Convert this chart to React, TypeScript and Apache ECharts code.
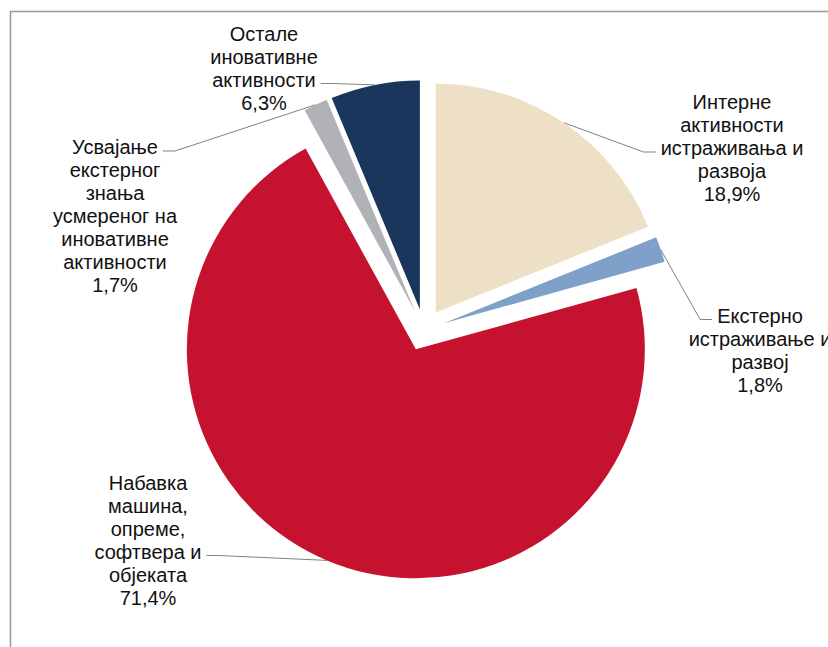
import React, { useEffect, useRef } from "react";
import * as echarts from "echarts";

const categories: string[][] = [
  ["Интерне", "активности", "истраживања и", "развоја"],
  ["Екстерно", "истраживање и", "развој"],
  ["Набавка", "машина,", "опреме,", "софтвера и", "објеката"],
  ["Усвајање", "екстерног", "знања", "усмереног на", "иновативне", "активности"],
  ["Остале", "иновативне", "активности"],
];
const values: number[] = [18.9, 1.8, 71.4, 1.7, 6.3];
const colors: string[] = ["#EEE0C6", "#7FA0C8", "#C4122F", "#B1B2B8", "#1B365D"];
// label text-block centres
const labelPos: number[][] = [
  [732, 148],
  [760, 350],
  [148, 540],
  [115, 216],
  [264, 68],
];
// which text line the leader line attaches to
const attachLine: number[] = [2, 0, 3, 0, 2];

const FONT_SIZE = 20;
const LINE_H = 23;
const FONT_FAMILY = "Liberation Sans, Arial, sans-serif";
const CENTER = [424, 330];
const RADIUS = 229;
const OFFSET = 21;

function fmt(v: number) {
  return v.toFixed(1).replace(".", ",") + "%";
}

export default function App() {
  const ref = useRef<HTMLDivElement>(null);
  useEffect(() => {
    if (!ref.current) return;
    const chart = echarts.init(ref.current, undefined, { renderer: "svg" });

    const canvas = document.createElement("canvas");
    const ctx = canvas.getContext("2d")!;
    ctx.font = `${FONT_SIZE}px "Liberation Sans", Arial, sans-serif`;
    const lines = categories.map((c, i) => [...c, fmt(values[i])]);

    const total = values.reduce((a, b) => a + b, 0);
    const midAngles: number[] = [];
    let cum = 0;
    values.forEach((v) => {
      midAngles.push(((cum + v / 2) / total) * Math.PI * 2);
      cum += v;
    });

    const labelLayout = (p: any) => {
      const i = p.dataIndex;
      const [cx, cy] = labelPos[i];
      const a = midAngles[i];
      const ax = CENTER[0] + (RADIUS + OFFSET) * Math.sin(a);
      const ay = CENTER[1] - (RADIUS + OFFSET) * Math.cos(a);
      const n = lines[i].length;
      const li = attachLine[i];
      const lineY = cy - (n * LINE_H) / 2 + (li + 0.5) * LINE_H + 4;
      const w = ctx.measureText(lines[i][li]).width;
      const rightSide = cx > ax;
      const endX = rightSide ? cx - w / 2 - 5 : cx + w / 2 + 5;
      const elbowX = rightSide ? endX - 12 : endX + 12;
      return {
        x: cx,
        y: cy,
        align: "center",
        verticalAlign: "middle",
        labelLinePoints: [
          [ax, ay],
          [elbowX, lineY],
          [endX, lineY],
        ],
      };
    };

    chart.setOption({
      animation: false,
      backgroundColor: "#ffffff",
      graphic: [
        {
          type: "rect",
          shape: { x: 10.5, y: 11.5, width: 900, height: 700 },
          style: { fill: "none", stroke: "#999999", lineWidth: 1.5 },
          silent: true,
        },
      ],
      series: [
        {
          type: "pie",
          center: CENTER,
          radius: [0, RADIUS],
          startAngle: 90,
          clockwise: true,
          selectedMode: "multiple",
          selectedOffset: OFFSET,
          label: { show: false },
          labelLine: { show: false },
          emphasis: { disabled: true },
          select: { itemStyle: { borderWidth: 0 } },
          data: values.map((v, i) => ({
            value: v,
            name: categories[i].join(" "),
            selected: true,
            itemStyle: { color: colors[i], borderWidth: 0 },
            select: { itemStyle: { color: colors[i], borderWidth: 0 } },
          })),
        },
        {
          type: "pie",
          center: CENTER,
          radius: [0, RADIUS],
          startAngle: 90,
          clockwise: true,
          selectedMode: false,
          silent: true,
          avoidLabelOverlap: false,
          itemStyle: { color: "rgba(0,0,0,0)", borderWidth: 0 },
          label: {
            show: true,
            position: "outside",
            color: "#111111",
            fontFamily: FONT_FAMILY,
            fontSize: FONT_SIZE,
            lineHeight: LINE_H,
            align: "center",
            formatter: (p: any) => lines[p.dataIndex].join("\n"),
          },
          labelLine: {
            show: true,
            length: 20,
            length2: 12,
            lineStyle: { color: "#808080", width: 1 },
          },
          labelLayout,
          emphasis: { disabled: true },
          data: values.map((v, i) => ({
            value: v,
            name: categories[i].join(" "),
          })),
        },
      ],
    });
    return () => chart.dispose();
  }, []);
  return (
    <div
      ref={ref}
      style={{ position: "absolute", left: 0, top: 0, width: 828, height: 647 }}
    />
  );
}
